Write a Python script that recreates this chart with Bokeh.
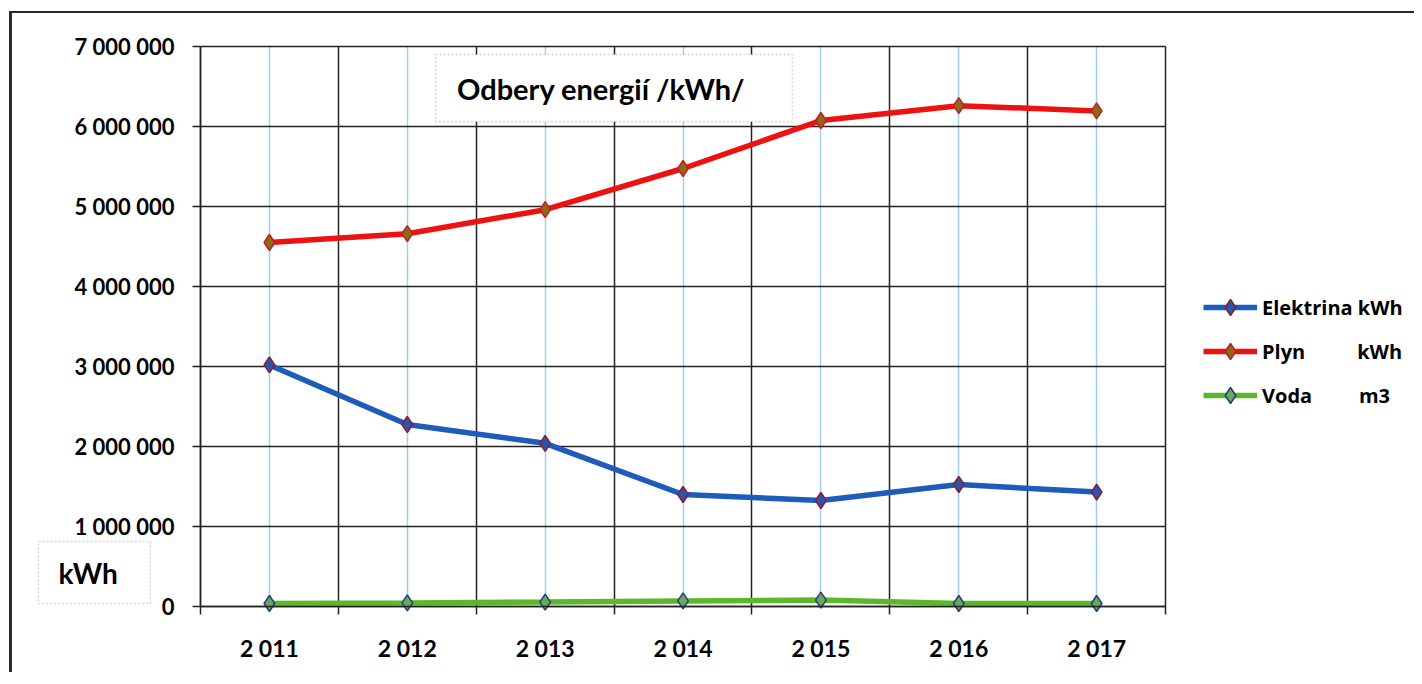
from bokeh.plotting import figure
from bokeh.models import (Range1d, FixedTicker, CustomJSTickFormatter, Legend, LegendItem,
                          BoxAnnotation, Label, ColumnDataSource)
from bokeh.embed import file_html
from bokeh.resources import INLINE

years = ["2 011", "2 012", "2 013", "2 014", "2 015", "2 016", "2 017"]
elektrina = [3020000, 2275000, 2040000, 1400000, 1325000, 1525000, 1430000]
plyn = [4550000, 4660000, 4960000, 5475000, 6075000, 6260000, 6195000]
voda = [37000, 45000, 55000, 70000, 80000, 38000, 38000]
y_ticks = [0, 1000000, 2000000, 3000000, 4000000, 5000000, 6000000, 7000000]

FONT = "Lato"
LFONT = "Open Sans"
n = len(years)
ymax = y_ticks[-1]
xpos = [i + 0.5 for i in range(n)]
src = ColumnDataSource(dict(x=xpos, years=years, el=elektrina, pl=plyn, vo=voda))

# frame spans the whole chart area (incl. unit box, axis labels and legend);
# the plot area proper is x 0..7, y 0..7 000 000 (axes and grids bounded to it)
p = figure(output_backend="svg", toolbar_location=None,
           frame_width=1382, frame_height=644,
           min_border_left=18, min_border_top=15, min_border_right=2, min_border_bottom=0,
           x_range=Range1d(-1.233, 8.791), y_range=Range1d(-825000, 7225000))
p.styles = {"border-left": "3px solid #2a2a2a", "border-top": "2px solid #2a2a2a",
            "margin-left": "9px", "margin-top": "11px"}
p.outline_line_color = None
p.background_fill_color = "white"
p.border_fill_color = "white"

# x axis (fixed at y = 0)
p.xaxis.fixed_location = 0
p.xaxis.ticker = FixedTicker(ticks=xpos, minor_ticks=list(range(n + 1)))
p.xaxis.bounds = (0, n)
p.xaxis.formatter = CustomJSTickFormatter(args=dict(labels=years),
                                          code="return labels[Math.floor(tick)];")
p.xaxis.major_tick_out = 0
p.xaxis.major_tick_in = 0
p.xaxis.minor_tick_out = 8
p.xaxis.minor_tick_in = 0
p.xaxis.minor_tick_line_color = "#222222"
p.xaxis.minor_tick_line_width = 1.5
p.xaxis.axis_line_color = "#222222"
p.xaxis.axis_line_width = 1.5
p.xaxis.major_label_standoff = 19
p.xaxis.major_label_text_font = FONT
p.xaxis.major_label_text_font_style = "bold"
p.xaxis.major_label_text_font_size = "23px"
p.xaxis.major_label_text_color = "black"

# y axis (fixed at x = 0)
p.yaxis.fixed_location = 0
p.yaxis.bounds = (0, ymax)
p.yaxis.ticker = FixedTicker(ticks=y_ticks)
p.yaxis.formatter = CustomJSTickFormatter(
    code='return Math.round(tick).toString().replace(/\\B(?=(\\d{3})+(?!\\d))/g, " ");')
p.yaxis.major_tick_out = 8
p.yaxis.major_tick_in = 0
p.yaxis.minor_tick_out = 0
p.yaxis.minor_tick_in = 0
p.yaxis.major_tick_line_color = "#222222"
p.yaxis.major_tick_line_width = 1.5
p.yaxis.axis_line_color = "#222222"
p.yaxis.axis_line_width = 1.5
p.yaxis.major_label_standoff = 18
p.yaxis.major_label_text_font = FONT
p.yaxis.major_label_text_font_style = "bold"
p.yaxis.major_label_text_font_size = "22px"
p.yaxis.major_label_text_color = "black"

# grids
p.xgrid.grid_line_color = "#9fd0ee"
p.xgrid.grid_line_width = 1.5
p.xgrid.minor_grid_line_color = "#222222"
p.xgrid.minor_grid_line_width = 1.5
p.xgrid.bounds = (0, n)
p.xgrid.cross_bounds = (0, ymax)
p.ygrid.grid_line_color = "#222222"
p.ygrid.grid_line_width = 1.5
p.ygrid.bounds = (0, ymax)
p.ygrid.cross_bounds = (0, n)

# series
l_el = p.line("x", "el", source=src, line_color="#1d5cbb", line_width=5.5)
m_el = p.scatter("x", "el", source=src, marker="diamond", size=16,
                 fill_color="#2b55a8", line_color="#8b1a3a", line_width=1.5)
l_pl = p.line("x", "pl", source=src, line_color="#ee1111", line_width=5.5)
m_pl = p.scatter("x", "pl", source=src, marker="diamond", size=16,
                 fill_color="#8a6a1a", line_color="#c02020", line_width=1.5)
l_vo = p.line("x", "vo", source=src, line_color="#5cb82a", line_width=5.5)
m_vo = p.scatter("x", "vo", source=src, marker="diamond", size=16,
                 fill_color="#6aa85a", line_color="#1f3f7f", line_width=1.5)

nb = "\u00a0"
legend = Legend(items=[
    LegendItem(label="Elektrina kWh", renderers=[l_el, m_el]),
    LegendItem(label="Plyn" + nb * 10 + "kWh", renderers=[l_pl, m_pl]),
    LegendItem(label="Voda" + nb * 9 + "m3", renderers=[l_vo, m_vo]),
], location=(1173, 257))
legend.border_line_color = None
legend.background_fill_alpha = 0
legend.padding = 0
legend.margin = 0
legend.glyph_width = 54
legend.glyph_height = 40
legend.label_height = 40
legend.spacing = 4
legend.label_standoff = 5
legend.label_text_font = LFONT
legend.label_text_font_style = "bold"
legend.label_text_font_size = "20px"
legend.label_text_color = "black"
p.add_layout(legend, "center")

# title box
p.add_layout(BoxAnnotation(left=1.705, right=4.294, top=6900000, bottom=6060000,
                           fill_color="white", fill_alpha=1.0,
                           line_color="#777777", line_dash="2 2", line_width=1.5))
p.add_layout(Label(x=1.86, y=6480000, text="Odbery energií /kWh/",
                   text_font=FONT, text_font_style="bold", text_font_size="29px",
                   text_color="black", text_baseline="middle"))

# kWh unit box
p.add_layout(BoxAnnotation(left=-1.175, right=-0.363, top=812000, bottom=37000,
                           fill_color="white", fill_alpha=1.0,
                           line_color="#777777", line_dash="2 2", line_width=1.5))
p.add_layout(Label(x=-1.03, y=420000, text="kWh",
                   text_font=FONT, text_font_style="bold", text_font_size="28px",
                   text_color="black", text_baseline="middle"))

open("out.html", "w").write(file_html(p, INLINE))
